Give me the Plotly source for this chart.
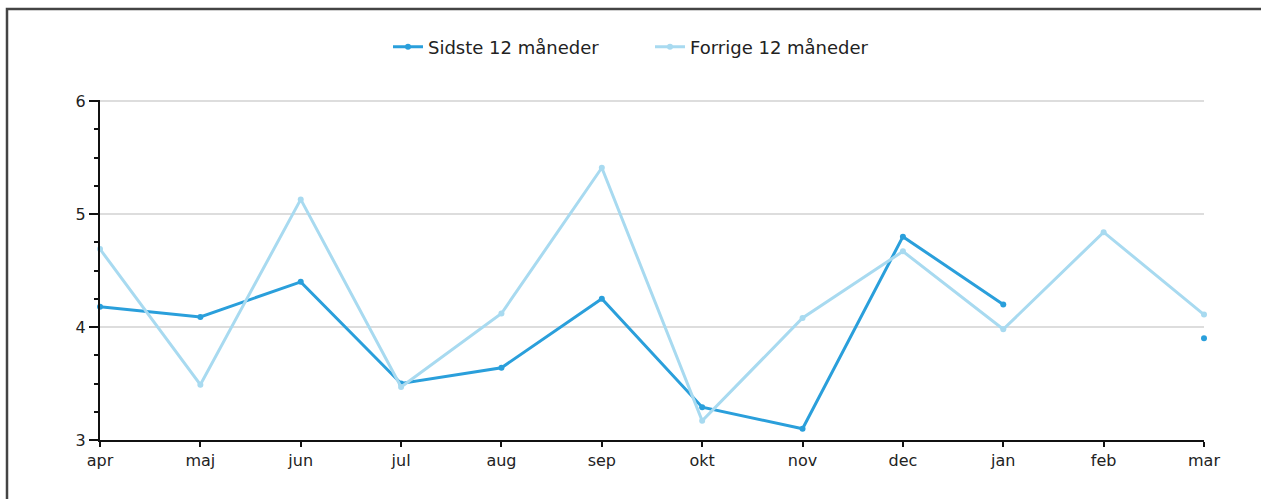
import plotly.graph_objects as go

months = ["apr", "maj", "jun", "jul", "aug", "sep", "okt", "nov", "dec", "jan", "feb", "mar"]
sidste = [4.18, 4.09, 4.40, 3.50, 3.64, 4.25, 3.29, 3.10, 4.80, 4.20, None, 3.90]
forrige = [4.69, 3.49, 5.13, 3.47, 4.12, 5.41, 3.17, 4.08, 4.67, 3.98, 4.84, 4.11]
y_ticks = [3, 4, 5, 6]

dark_blue = "#2a9fdb"
light_blue = "#a8daf0"

fig = go.Figure()
fig.add_trace(go.Scatter(
    x=months, y=sidste, name="Sidste 12 måneder", mode="lines+markers",
    line=dict(color=dark_blue, width=3), marker=dict(size=6, color=dark_blue),
    connectgaps=False, cliponaxis=False,
))
fig.add_trace(go.Scatter(
    x=months, y=forrige, name="Forrige 12 måneder", mode="lines+markers",
    line=dict(color=light_blue, width=3), marker=dict(size=6, color=light_blue),
    cliponaxis=False,
))

fig.update_layout(
    width=1261, height=499,
    margin=dict(l=100, r=57, t=100, b=59),
    paper_bgcolor="white", plot_bgcolor="white",
    font=dict(family="DejaVu Sans, Verdana, sans-serif", size=16, color="#222"),
    showlegend=True,
    legend=dict(orientation="h", x=(388 - 100) / 1104, xanchor="left", y=1.156, yanchor="middle",
                font=dict(size=18, color="#222"), entrywidth=217, entrywidthmode="pixels"),
    xaxis=dict(
        type="category", range=[0, 11], showgrid=False,
        showline=True, linecolor="#111", linewidth=2,
        ticks="outside", ticklen=5, tickcolor="#111", tickwidth=1.5,
        tickfont=dict(size=16, color="#222"), fixedrange=True,
    ),
    yaxis=dict(
        range=[3, 6.01], tickvals=y_ticks, showgrid=True, gridcolor="#dddddd", gridwidth=1.5,
        showline=True, linecolor="#111", linewidth=2, zeroline=False,
        ticks="outside", ticklen=9, tickcolor="#111", tickwidth=1.5,
        tickfont=dict(size=16, color="#222"),
        minor=dict(dtick=0.25, ticks="outside", ticklen=4, tickcolor="#111", tickwidth=1.5, showgrid=False),
    ),
    shapes=[dict(
        type="rect", xref="paper", yref="paper",
        x0=(7 - 100) / 1104, x1=(1500 - 100) / 1104,
        y0=(440 - 700) / 340, y1=(440 - 9) / 340,
        line=dict(color="#444", width=2.5), fillcolor="rgba(0,0,0,0)", layer="below",
    )],
)

fig.write_html("out.html", config={"displayModeBar": False},
               post_script="document.body.style.margin='0';document.body.style.overflow='hidden';")
